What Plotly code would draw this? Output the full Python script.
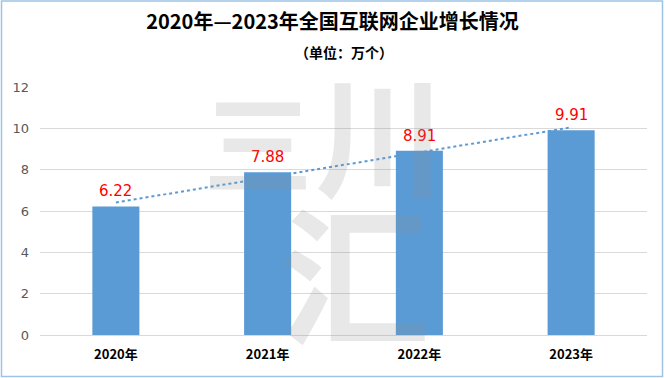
import numpy as np
import plotly.graph_objects as go

categories = ["2020年", "2021年", "2022年", "2023年"]
values = [6.22, 7.88, 8.91, 9.91]
y_ticks = [0, 2, 4, 6, 8, 10, 12]
title_text = "2020年—2023年全国互联网企业增长情况"
subtitle_text = "（单位：万个）"
watermark_chars = ["三", "川", "汇"]

# linear trendline (as in the spreadsheet), fitted on the category index
xi = np.arange(1, len(values) + 1)
slope, intercept = np.polyfit(xi, values, 1)
trend = [float(intercept + slope * i) for i in xi]

fig = go.Figure()
fig.add_trace(go.Bar(
    x=categories, y=values, width=0.31,
    marker=dict(color="#5B9BD5", line=dict(width=0)),
    showlegend=False, hoverinfo="skip",
))
fig.add_trace(go.Scatter(
    x=categories, y=trend, mode="lines",
    line=dict(color="#5B9BD5", width=2, dash="dot"),
    showlegend=False, hoverinfo="skip",
))

annotations = []
for c, v in zip(categories, values):
    annotations.append(dict(
        x=c, y=v, xref="x", yref="y", text=f"{v:.2f}", showarrow=False,
        yshift=15, font=dict(family="DejaVu Sans, Noto Sans", size=15, color="#FF0000"),
    ))

# watermark
wm_font = "Noto Sans CJK SC"
wm_color = "rgba(140,140,140,0.20)"
def px(xp, yp):
    return (xp - 40) / 607, (335 - yp) / 248
for ch, (cx, cy), size in [
    (watermark_chars[0], (258, 138), 110),
    (watermark_chars[1], (380, 130), 130),
    (watermark_chars[2], (355, 268), 150),
]:
    xx, yy = px(cx, cy)
    annotations.append(dict(
        x=xx, y=yy, xref="paper", yref="paper", text=ch, showarrow=False,
        xanchor="center", yanchor="middle",
        font=dict(family=wm_font, size=size, color=wm_color, weight="bold"),
    ))

# subtitle
annotations.append(dict(
    x=0.5, xref="paper", y=(335 - 52) / 248, yref="paper", text=f"<b>{subtitle_text}</b>",
    showarrow=False, xanchor="center", yanchor="middle",
    font=dict(family="Noto Sans CJK SC", size=14, color="#000000"),
))

fig.update_layout(
    width=665, height=378,
    margin=dict(l=40, r=18, t=87, b=43),
    paper_bgcolor="white", plot_bgcolor="white",
    annotations=annotations,
    title=dict(
        text=f"<b>{title_text}</b>",
        x=0.5, xanchor="center", y=1 - 22 / 378, yanchor="middle",
        font=dict(family="Noto Sans CJK SC", size=20, color="#000000"),
    ),
    bargap=0.69,
    xaxis=dict(
        showgrid=False, showline=False, zeroline=False,
        tickfont=dict(family="Noto Sans CJK SC", size=13, color="#000000", weight="bold"),
        ticks="", ticklabelstandoff=10,
    ),
    yaxis=dict(
        range=[0, 12], tickvals=y_ticks, showgrid=True, gridcolor="#D9D9D9", gridwidth=1,
        zeroline=True, zerolinecolor="#D9D9D9", zerolinewidth=1, showline=False,
        tickfont=dict(family="DejaVu Sans", size=13, color="#595959"),
        ticks="", ticklabelstandoff=10,
    ),
    shapes=[dict(
        type="rect", xref="paper", yref="paper",
        x0=(1.5 - 40) / 607, x1=(662.5 - 40) / 607,
        y0=(335 - 376.5) / 248, y1=(335 - 1) / 248,
        line=dict(color="#9DC3E6", width=1.5), layer="below",
    )],
)

fig.write_html(
    "out.html",
    config={"displayModeBar": False},
    post_script="document.body.style.margin='0px';document.body.style.overflow='hidden';",
)
